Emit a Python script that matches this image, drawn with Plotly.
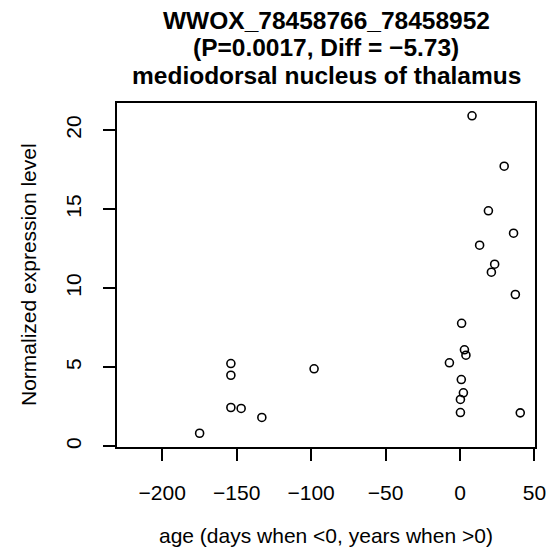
import plotly.graph_objects as go

age = [-174.9, -153.9, -153.9, -153.9, -147.0, -133.1, -98.0, -7.1,
       1.1, 3.0, 4.0, 0.9, 2.3, 0.3, 0.3, 37.2, 40.5,
       8.1, 29.7, 19.1, 36.0, 13.2, 23.3, 21.1]
expr = [0.82, 5.23, 4.49, 2.45, 2.39, 1.82, 4.90, 5.28,
        7.78, 6.10, 5.76, 4.22, 3.38, 2.96, 2.13, 9.60, 2.11,
        20.91, 17.72, 14.90, 13.48, 12.72, 11.52, 11.01]

x_ticks = [-200, -150, -100, -50, 0, 50]
x_tick_text = ["\u2212200", "\u2212150", "\u2212100", "\u221250", "0", "50"]
y_ticks = [0, 5, 10, 15, 20]

title_lines = ["WWOX_78458766_78458952",
               "(P=0.0017, Diff = \u22125.73)",
               "mediodorsal nucleus of thalamus"]
x_label = "age (days when <0, years when >0)"
y_label = "Normalized expression level"

FONT = "Liberation Sans, Arial, Helvetica, sans-serif"

fig = go.Figure()
fig.add_trace(go.Scatter(
    x=age, y=expr, mode="markers",
    marker=dict(symbol="circle-open", size=8, color="black",
                line=dict(color="black", width=1.6)),
    showlegend=False, hoverinfo="skip"))

W, H = 559, 553
L, R, T, B = 117, 24, 103, 106
ph = H - T - B
pw = W - L - R

def py(p):
    return (H - B - p) / ph

def px(p):
    return (p - L) / pw

annotations = []
for line, yc in zip(title_lines, [20.5, 48, 75]):
    annotations.append(dict(text="<b>%s</b>" % line, x=px(326), xref="paper",
                            y=py(yc), yref="paper", xanchor="center", yanchor="middle",
                            showarrow=False, font=dict(family=FONT, size=24.5, color="black")))
annotations.append(dict(text=x_label, x=px(326), xref="paper",
                        y=py(535), yref="paper", xanchor="center", yanchor="middle",
                        showarrow=False, font=dict(family=FONT, size=21, color="black")))
annotations.append(dict(text=y_label, x=px(28), xref="paper",
                        y=0.5, yref="paper", xanchor="center", yanchor="middle", textangle=-90,
                        showarrow=False, font=dict(family=FONT, size=21, color="black")))

fig.update_layout(
    width=W, height=H,
    margin=dict(l=L, r=R, t=T, b=B),
    paper_bgcolor="white", plot_bgcolor="white",
    font=dict(family=FONT, size=20, color="black"),
    annotations=annotations,
    xaxis=dict(range=[-230.4, 50.4], tickvals=x_ticks, ticktext=x_tick_text,
               showgrid=False, zeroline=False, showline=True, mirror=True,
               linecolor="black", linewidth=1.5, ticks="outside", ticklen=12,
               tickwidth=1.5, tickcolor="black", ticklabelstandoff=14,
               tickfont=dict(family=FONT, size=21, color="black")),
    yaxis=dict(range=[-0.05, 21.72], tickvals=y_ticks,
               showgrid=False, zeroline=False, showline=True, mirror=True,
               linecolor="black", linewidth=1.5, ticks="outside", ticklen=12,
               tickwidth=1.5, tickcolor="black", tickangle=-90, ticklabelstandoff=14,
               tickfont=dict(family=FONT, size=21, color="black")),
)

fig.write_html("out.html", config={"displayModeBar": False},
               post_script="document.body.style.margin='0px';document.body.style.overflow='hidden';")
